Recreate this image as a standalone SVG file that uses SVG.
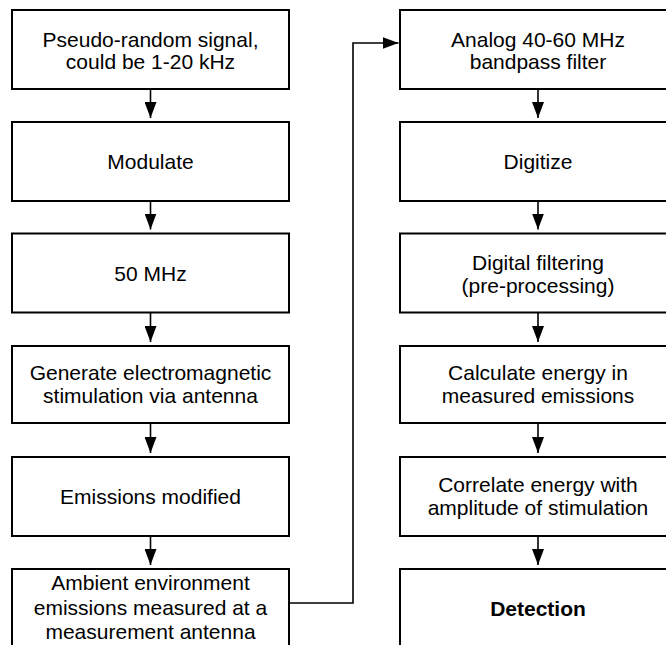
<svg xmlns="http://www.w3.org/2000/svg" width="666" height="645" viewBox="0 0 666 645">
<defs>
<style>
.box{fill:#fff;stroke:#000;stroke-width:2}
.t{font-family:"Liberation Sans",Arial,Helvetica,sans-serif;font-size:21px;fill:#000;text-anchor:middle}
.b{font-weight:bold}
.c{fill:none;stroke:#000;stroke-width:1.6}
</style>
<marker id="ah" viewBox="0 0 16 12" refX="16" refY="6" markerWidth="16" markerHeight="12" markerUnits="userSpaceOnUse" orient="auto">
<path d="M0,0 L16,6 L0,12 Z" fill="#000"/>
</marker>
</defs>
<rect width="666" height="645" fill="#fff"/>
<g id="connectors">
<line class="c" x1="150.5" y1="89" x2="150.5" y2="118" marker-end="url(#ah)"/>
<line class="c" x1="150.5" y1="201" x2="150.5" y2="229.5" marker-end="url(#ah)"/>
<line class="c" x1="150.5" y1="312.5" x2="150.5" y2="342" marker-end="url(#ah)"/>
<line class="c" x1="150.5" y1="423" x2="150.5" y2="453" marker-end="url(#ah)"/>
<line class="c" x1="150.5" y1="536" x2="150.5" y2="565" marker-end="url(#ah)"/>
<line class="c" x1="538" y1="89" x2="538" y2="118" marker-end="url(#ah)"/>
<line class="c" x1="538" y1="201" x2="538" y2="229.5" marker-end="url(#ah)"/>
<line class="c" x1="538" y1="312.5" x2="538" y2="342" marker-end="url(#ah)"/>
<line class="c" x1="538" y1="423" x2="538" y2="453" marker-end="url(#ah)"/>
<line class="c" x1="538" y1="536" x2="538" y2="565" marker-end="url(#ah)"/>
<polyline class="c" points="289,603 353,603 353,43 398.5,43" marker-end="url(#ah)"/>
</g>
<g id="n1"><rect class="box" x="12" y="10" width="277" height="79"/><text class="t" x="150.5" y="46.5">Pseudo-random signal,</text><text class="t" x="150.5" y="69">could be 1-20 kHz</text></g>
<g id="n2"><rect class="box" x="12" y="122" width="277" height="79"/><text class="t" x="150.5" y="169">Modulate</text></g>
<g id="n3"><rect class="box" x="12" y="233.5" width="277" height="79"/><text class="t" x="150.5" y="280.5">50 MHz</text></g>
<g id="n4"><rect class="box" x="12" y="346" width="277" height="77"/><text class="t" x="150.5" y="379.5">Generate electromagnetic</text><text class="t" x="150.5" y="402.5">stimulation via antenna</text></g>
<g id="n5"><rect class="box" x="12" y="457" width="277" height="79"/><text class="t" x="150.5" y="504">Emissions modified</text></g>
<g id="n6"><rect class="box" x="12" y="569" width="277" height="79"/><text class="t" x="150.5" y="590">Ambient environment</text><text class="t" x="150.5" y="614.5">emissions measured at a</text><text class="t" x="150.5" y="638.5">measurement antenna</text></g>
<g id="n7"><rect class="box" x="400" y="10" width="276" height="79"/><text class="t" x="538" y="46.5">Analog 40-60 MHz</text><text class="t" x="538" y="69">bandpass filter</text></g>
<g id="n8"><rect class="box" x="400" y="122" width="276" height="79"/><text class="t" x="538" y="169">Digitize</text></g>
<g id="n9"><rect class="box" x="400" y="233.5" width="276" height="79"/><text class="t" x="538" y="270">Digital filtering</text><text class="t" x="538" y="292.5">(pre-processing)</text></g>
<g id="n10"><rect class="box" x="400" y="346" width="276" height="77"/><text class="t" x="538" y="380">Calculate energy in</text><text class="t" x="538" y="403">measured emissions</text></g>
<g id="n11"><rect class="box" x="400" y="457" width="276" height="79"/><text class="t" x="538" y="492">Correlate energy with</text><text class="t" x="538" y="515">amplitude of stimulation</text></g>
<g id="n12"><rect class="box" x="400" y="569" width="276" height="79"/><text class="t b" x="538" y="616">Detection</text></g>
</svg>
